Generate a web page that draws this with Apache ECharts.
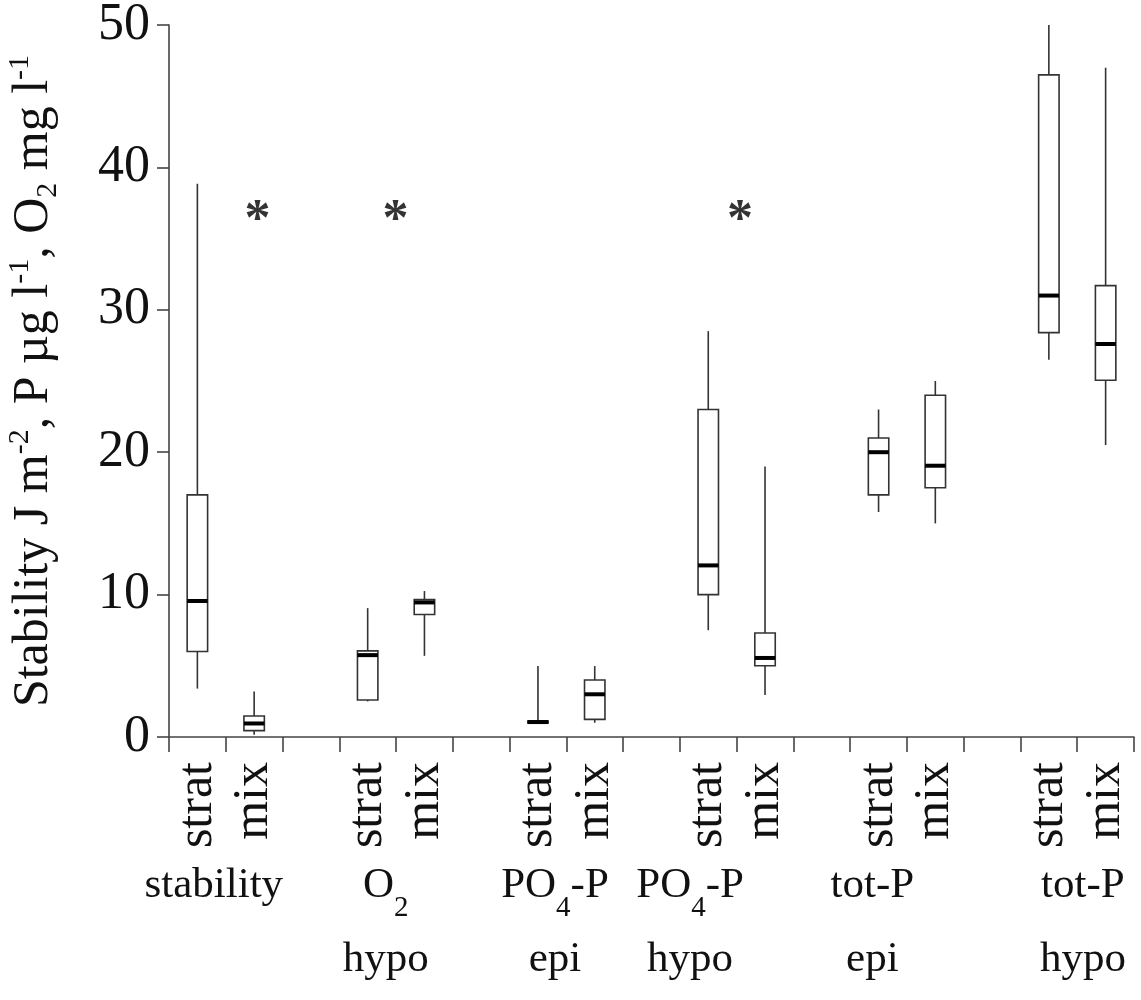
<!DOCTYPE html>
<html>
<head>
<meta charset="utf-8">
<script src="https://cdn.jsdelivr.net/npm/echarts@6/dist/echarts.min.js"></script>
<style>
    html, body {margin:0;padding:0;background:#fff;}
    #chart1 {width:1141px;height:1000px;}
</style>
</head>
<body>
<div id="chart1"></div>
<script>
var slots = ['strat','mix','','strat','mix','','strat','mix','','strat','mix','','strat','mix','','strat','mix'];
var slotIdx     = [0, 1, 3, 4, 6, 7, 9, 10, 12, 13, 15, 16];
var whiskerLow  = [3.4, 0.15, 2.5, 5.7, 0.98, 1.0, 7.5, 2.95, 15.8, 15.0, 26.5, 20.5];
var q1          = [6.0, 0.45, 2.6, 8.6, 0.98, 1.24, 10.0, 5.0, 17.0, 17.5, 28.4, 25.05];
var median      = [9.55, 0.95, 5.75, 9.45, 1.05, 3.0, 12.05, 5.55, 20.0, 19.05, 31.0, 27.6];
var q3          = [17.0, 1.47, 6.05, 9.65, 1.12, 4.0, 23.0, 7.3, 21.0, 24.0, 46.5, 31.7];
var whiskerHigh = [38.85, 3.2, 9.05, 10.25, 4.98, 4.98, 28.5, 19.0, 23.0, 25.0, 50.0, 47.0];

var groupPos    = [0.79, 3.82, 6.8, 9.18, 12.39, 16.1];
var groupNames  = ['stability', 'O{sub|2}', 'PO{sub|4}-P', 'PO{sub|4}-P', 'tot-P', 'tot-P'];
var groupLayers = ['', 'hypo', 'epi', 'hypo', 'epi', 'hypo'];

var starPos = [1.56, 3.99, 10.06];
var starY   = [36.2, 36.2, 36.2];

var yTicks = [0, 10, 20, 30, 40, 50];

var serif = 'Liberation Serif';

var boxData = slotIdx.map(function (s, i) {
    return [s, whiskerLow[i], q1[i], median[i], q3[i], whiskerHigh[i]];
});
var starData = starPos.map(function (x, i) {
    return [x, starY[i]];
});

function renderBox(params, api) {
    var x = api.value(0);
    var lo = api.coord([x, api.value(1)]);
    var b1 = api.coord([x, api.value(2)]);
    var md = api.coord([x, api.value(3)]);
    var b3 = api.coord([x, api.value(4)]);
    var hi = api.coord([x, api.value(5)]);
    var w = api.size([1, 0])[0] * 0.36;
    var thin = {stroke:'#333', lineWidth:1.6};
    return {
        type:'group',
        children:[
            {type:'line', shape:{x1:lo[0], y1:lo[1], x2:b1[0], y2:b1[1]}, style:thin},
            {type:'line', shape:{x1:b3[0], y1:b3[1], x2:hi[0], y2:hi[1]}, style:thin},
            {type:'rect', shape:{x:b1[0] - w / 2, y:b3[1], width:w, height:b1[1] - b3[1]},
                style:{fill:'#fff', stroke:'#333', lineWidth:1.6}},
            {type:'line', shape:{x1:md[0] - w / 2, y1:md[1], x2:md[0] + w / 2, y2:md[1]},
                style:{stroke:'#000', lineWidth:4}}
        ]
    };
}

var myChart1 = echarts.init(document.getElementById('chart1'));
var option1 = {
    animation:false,
    grid:{left:169, right:7, top:25, bottom:263, outerBoundsMode:'none'},
    xAxis:[
        {
            type:'category',
            data:slots,
            boundaryGap:true,
            axisLine:{show:true, lineStyle:{color:'#444', width:1.6}},
            axisTick:{show:true, interval:0, length:15, lineStyle:{color:'#444', width:1.6}},
            axisLabel:{interval:0, rotate:90, margin:25, fontFamily:serif, fontSize:50, color:'#111'},
            splitLine:{show:false}
        },
        {
            type:'value',
            min:0,
            max:17,
            position:'bottom',
            axisLine:{show:false},
            axisTick:{show:false},
            splitLine:{show:false},
            axisLabel:{
                customValues:groupPos,
                margin:112,
                fontFamily:serif,
                fontSize:43,
                lineHeight:74,
                color:'#111',
                formatter:function (v) {
                    var i = groupPos.indexOf(v);
                    if (i < 0) return '';
                    return groupLayers[i] ? groupNames[i] + '\n' + groupLayers[i] : groupNames[i];
                },
                rich:{
                    sub:{fontFamily:serif, fontSize:29, lineHeight:30, verticalAlign:'bottom', color:'#111'}
                }
            }
        }
    ],
    yAxis:{
        type:'value',
        min:0,
        max:50,
        interval:10,
        name:'Stability J m{sup|-2}, P µg l{sup|-1}, O{sub|2} mg l{sup|-1}',
        nameLocation:'middle',
        nameRotate:90,
        nameGap:106,
        nameTextStyle:{
            fontFamily:serif, fontSize:50, lineHeight:58, color:'#111',
            rich:{
                sup:{fontFamily:serif, fontSize:30, lineHeight:30, verticalAlign:'top', color:'#111'},
                sub:{fontFamily:serif, fontSize:30, lineHeight:30, verticalAlign:'bottom', color:'#111'}
            }
        },
        axisLine:{show:true, lineStyle:{color:'#444', width:1.6}},
        axisTick:{show:true, length:12, lineStyle:{color:'#444', width:1.6}},
        axisLabel:{margin:19, fontFamily:serif, fontSize:52, color:'#111',
            customValues:yTicks},
        splitLine:{show:false}
    },
    series:[
        {
            type:'custom',
            xAxisIndex:0,
            yAxisIndex:0,
            renderItem:renderBox,
            encode:{x:0, y:[1, 2, 3, 4, 5]},
            data:boxData
        },
        {
            type:'scatter',
            xAxisIndex:1,
            yAxisIndex:0,
            symbolSize:0,
            clip:false,
            label:{show:true, position:'inside', formatter:'*', fontFamily:serif,
                fontWeight:'bold', fontSize:52, color:'#000'},
            data:starData
        }
    ]
};
myChart1.setOption(option1);
</script>
</body>
</html>
